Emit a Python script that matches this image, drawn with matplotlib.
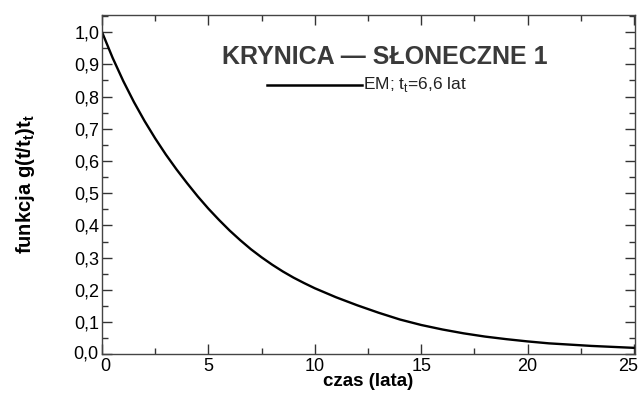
import matplotlib
matplotlib.use("Agg")
import matplotlib.pyplot as plt
import matplotlib.lines as mlines
import matplotlib.transforms as mtransforms
from matplotlib.ticker import MultipleLocator, FuncFormatter

# data
t_years = [0, 0.5, 1, 1.5, 2, 2.5, 3, 3.5, 4, 4.5, 5, 5.5, 6, 6.5, 7, 7.5, 8,
           8.5, 9, 9.5, 10, 11, 12, 13, 14, 15, 16, 17, 18, 19, 20, 21, 22,
           23, 24, 25]
g_values = [1.000, 0.920, 0.848, 0.783, 0.724, 0.670, 0.620, 0.574, 0.531,
            0.490, 0.452, 0.417, 0.384, 0.354, 0.326, 0.301, 0.278, 0.257,
            0.238, 0.221, 0.205, 0.177, 0.152, 0.129, 0.108, 0.091, 0.077,
            0.065, 0.055, 0.047, 0.040, 0.034, 0.030, 0.026, 0.023, 0.020]
x_ticks = [0, 5, 10, 15, 20, 25]
y_ticks = [0.0, 0.1, 0.2, 0.3, 0.4, 0.5, 0.6, 0.7, 0.8, 0.9, 1.0]

title_text = "KRYNICA — SŁONECZNE 1"
legend_text = "EM; t$_{\\mathregular{t}}$=6,6 lat"
xlabel = "czas (lata)"
ylabel = "funkcja g(t/t$_{\\mathregular{t}}$)t$_{\\mathregular{t}}$"

plt.rcParams['font.family'] = ['Liberation Sans', 'DejaVu Sans']

fig = plt.figure(figsize=(6.41, 3.94), dpi=100)
ax = fig.add_axes([102/641, 1 - 354.3/394, (635-102)/641, (354.3-15)/394])

ax.plot(t_years, g_values, color='black', lw=1.7)
ax.set_xlim(0, 25.05)
ax.set_ylim(0, 1.053)

ax.set_xticks(x_ticks)
ax.set_yticks(y_ticks)
ax.xaxis.set_minor_locator(MultipleLocator(2.5))
ax.yaxis.set_minor_locator(MultipleLocator(0.05))
ax.yaxis.set_major_formatter(FuncFormatter(lambda v, p: f"{v:.1f}".replace('.', ',')))
ax.xaxis.set_major_formatter(FuncFormatter(lambda v, p: f"{v:.0f}"))
ax.tick_params(which='both', direction='in', top=True, right=True, color='#333333')
ax.tick_params(which='major', length=7, width=1, labelsize=13)
ax.tick_params(axis='y', which='major', pad=2)
ax.tick_params(axis='x', which='major', pad=3)
ax.tick_params(which='minor', length=4, width=1)
for s in ax.spines.values():
    s.set_color('#444444')
    s.set_linewidth(1.0)

fig.canvas.draw()
xl = ax.get_xticklabels()
xl[-1].set_transform(xl[-1].get_transform() +
                     mtransforms.ScaledTranslation(-6/100, 0, fig.dpi_scale_trans))
xl[0].set_transform(xl[0].get_transform() +
                    mtransforms.ScaledTranslation(3/100, 0, fig.dpi_scale_trans))
yl = ax.get_yticklabels()
yl[0].set_transform(yl[0].get_transform() +
                    mtransforms.ScaledTranslation(-1/100, 2/100, fig.dpi_scale_trans))

ax.set_xlabel(xlabel, fontsize=13.5, fontweight='bold', labelpad=-2)
ax.set_ylabel(ylabel, fontsize=14.5, fontweight='bold', labelpad=26)

fig.text(385/641, 1 - 57/394, title_text, fontsize=18, fontweight='bold',
         family=['Liberation Sans', 'DejaVu Sans'], color='#3a3a3a',
         ha='center', va='center')
fig.add_artist(mlines.Line2D([267/641, 362/641], [1 - 85/394, 1 - 85/394],
                             color='black', lw=1.8))
fig.text(363/641, 1 - 85/394, legend_text, fontsize=12.5,
         family=['Liberation Sans', 'DejaVu Sans'], color='#222222',
         ha='left', va='center')

fig.savefig("out.png", dpi=100)
